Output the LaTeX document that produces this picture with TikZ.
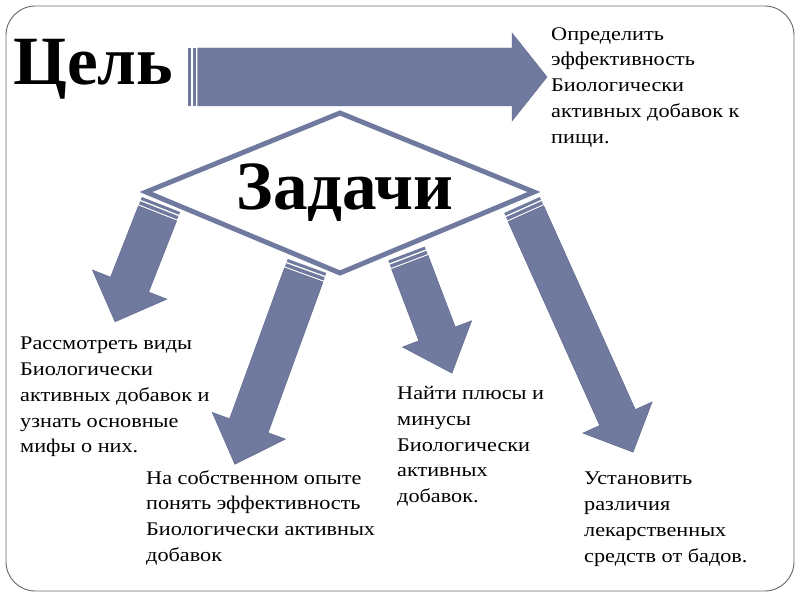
\documentclass[tikz,border=0pt]{standalone}
\usepackage{fontspec}
\setmainfont{Liberation Serif}
\newfontfamily\taskfont[FakeStretch=1.15]{Liberation Serif}
\definecolor{arrowblue}{RGB}{112,122,158}
\definecolor{arrowedge}{RGB}{95,104,140}
\definecolor{framegray}{RGB}{105,105,105}

\tikzset{
  task/.style={anchor=north west, inner sep=0pt, align=left, font=\taskfont\fontsize{16.5}{22}\selectfont},
  heading/.style={inner sep=0pt, font=\fontsize{59}{60}\selectfont\bfseries},
  blockarrow/.style={fill=arrowblue, draw=arrowedge, line width=0.4pt},
}

% striped block arrow: tail, angle, length, body half width, head half width, head length
\newcommand{\stripedarrow}[6]{%
  \begin{scope}[shift={(#1)}, rotate=#2]
    \fill[arrowblue] (0,-#4) rectangle (3,#4);
    \fill[arrowblue] (4.5,-#4) rectangle (8,#4);
    \draw[blockarrow] (9.5,-#4) -- (#3-#6,-#4) -- (#3-#6,-#5) -- (#3,0)
      -- (#3-#6,#5) -- (#3-#6,#4) -- (9.5,#4) -- cycle;
  \end{scope}}

\begin{document}
\begin{tikzpicture}[x=0.03cm, y=-0.03cm]
  \useasboundingbox (0,0) rectangle (800,600);

  % Slide frame
  \draw[framegray, line width=0.8pt, rounded corners=25pt] (6,6) rectangle (794,591);

  % Goal
  \node[heading, anchor=base west] (goal) at (13,85) {Цель};
  \coordinate (goaltail) at (188,77);
  \stripedarrow{goaltail}{0}{359}{29}{44}{35}
  \node[task] (goaltext) at (551,27)
    {Определить\\эффективность\\Биологически\\активных добавок к\\пищи.};

  % Task arrows (tails sit on the lower edges of the diamond)
  \coordinate (tail1) at (161,204.5);
  \coordinate (tail2) at (307,266);
  \coordinate (tail3) at (406.5,253.5);
  \coordinate (tail4) at (522,205);
  \stripedarrow{tail1}{-111.4}{126}{20.5}{40}{40}
  \stripedarrow{tail2}{-110}{211}{20.5}{39}{41}
  \stripedarrow{tail3}{-69.2}{128}{19.5}{37}{42}
  \stripedarrow{tail4}{-65.8}{271}{19.5}{38}{38}

  % Diamond with the tasks heading
  \coordinate (dtop) at (340,113);
  \coordinate (dright) at (534,192);
  \coordinate (dbot) at (340,273);
  \coordinate (dleft) at (146,192);
  \draw[arrowblue, line width=4.2pt, fill=white, line join=miter]
    (dtop) -- (dright) -- (dbot) -- (dleft) -- cycle;
  \node[heading, anchor=base] (tasks) at (345,210) {Задачи};

  % Tasks
  \node[task] (task1) at (20,337)
    {Рассмотреть виды\\Биологически\\активных добавок и\\узнать основные\\мифы о них.};
  \node[task] (task2) at (146,470)
    {На собственном опыте\\понять эффективность\\Биологически активных\\добавок};
  \node[task] (task3) at (397,386)
    {Найти плюсы и\\минусы\\Биологически\\активных\\добавок.};
  \node[task] (task4) at (584,472)
    {Установить\\различия\\лекарственных\\средств от бадов.};
\end{tikzpicture}
\end{document}
